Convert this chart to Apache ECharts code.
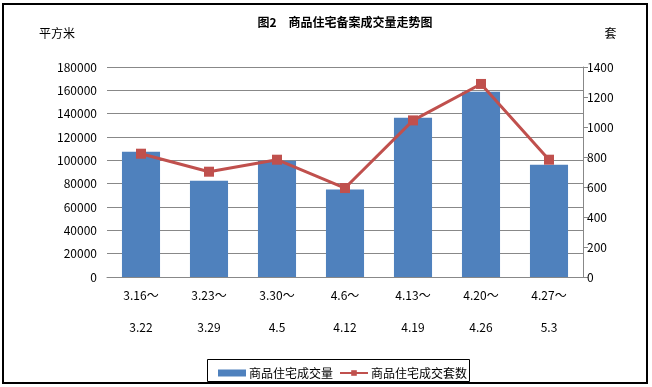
<!DOCTYPE html>
<html><head><meta charset="utf-8">
<script src="https://cdn.jsdelivr.net/npm/echarts@6/dist/echarts.min.js"></script>
<style>html,body{margin:0;padding:0;background:#fff}#c{width:652px;height:387px}</style>
</head><body><div id="c"></div>
<script>
const categoriesTop = ['3.16～','3.23～','3.30～','4.6～','4.13～','4.20～','4.27～'];
const categoriesBottom = ['3.22','3.29','4.5','4.12','4.19','4.26','5.3'];
const areaValues = [107400, 82500, 99700, 75100, 136500, 158800, 96300];
const unitValues = [822, 702, 782, 593, 1044, 1287, 782];
const leftTicks = [0, 180000, 20000];
const rightTicks = [0, 1400, 200];
const seriesNames = ['商品住宅成交量', '商品住宅成交套数'];

const font = '"Noto Sans CJK SC", "DejaVu Sans", sans-serif';
const chart = echarts.init(document.getElementById('c'));
chart.setOption({
  animation: false,
  textStyle: {fontFamily: font},
  title: {text: '图2　商品住宅备案成交量走势图', left: 340, top: 11, textAlign: 'center',
    textStyle: {fontSize: 12, fontWeight: 'bold', color: '#000', fontFamily: font}},
  graphic: [
    {type: 'rect', shape: {x: 3, y: 4, width: 644, height: 379}, style: {fill: 'none', stroke: '#000', lineWidth: 2}, silent: true},
    {type: 'rect', shape: {x: 207.5, y: 359.5, width: 262, height: 22}, style: {fill: 'none', stroke: '#000', lineWidth: 1}, silent: true, z: -1}
  ],
  legend: {left: 213, top: 362, itemGap: 6, itemWidth: 28, itemHeight: 7,
    textStyle: {fontSize: 12, color: '#000', fontFamily: font, padding: [0,0,0,-2]},
    data: [{name: seriesNames[0], icon: 'rect'}, {name: seriesNames[1]}]},
  grid: {left: 107, right: 69, top: 67, bottom: 110},
  xAxis: {type: 'category', data: categoriesTop.map((t, i) => t + '\n' + categoriesBottom[i]),
    axisLine: {lineStyle: {color: '#888'}}, axisTick: {show: false},
    axisLabel: {color: '#000', fontSize: 12, lineHeight: 32, margin: 2, fontFamily: font}},
  yAxis: [
    {type: 'value', min: leftTicks[0], max: leftTicks[1], interval: leftTicks[2],
      name: '平方米', nameLocation: 'end', nameGap: 28, nameTextStyle: {align: 'center', color: '#000', fontSize: 12, padding: [0,0,0,-100]},
      axisLine: {show: false}, axisTick: {show: false},
      splitLine: {lineStyle: {color: '#888', width: 1}},
      axisLabel: {color: '#000', fontSize: 12, margin: 10, fontFamily: font, formatter: v => String(v)}},
    {type: 'value', min: rightTicks[0], max: rightTicks[1], interval: rightTicks[2],
      name: '套', nameLocation: 'end', nameGap: 28, nameTextStyle: {align: 'center', color: '#000', fontSize: 12, padding: [0,0,0,55]},
      axisLine: {show: true, lineStyle: {color: '#888'}}, axisTick: {show: true, length: 5, lineStyle: {color: '#888'}},
      splitLine: {show: false},
      axisLabel: {color: '#000', fontSize: 12, margin: 4, fontFamily: font, formatter: v => String(v)}}
  ],
  series: [
    {name: seriesNames[0], type: 'bar', yAxisIndex: 0, data: areaValues, barWidth: '56%',
      itemStyle: {color: '#4F81BD'}},
    {name: seriesNames[1], type: 'line', yAxisIndex: 1, data: unitValues,
      symbol: 'rect', symbolSize: 10, lineStyle: {color: '#C0504D', width: 3},
      itemStyle: {color: '#C0504D'}}
  ]
});
</script></body></html>
